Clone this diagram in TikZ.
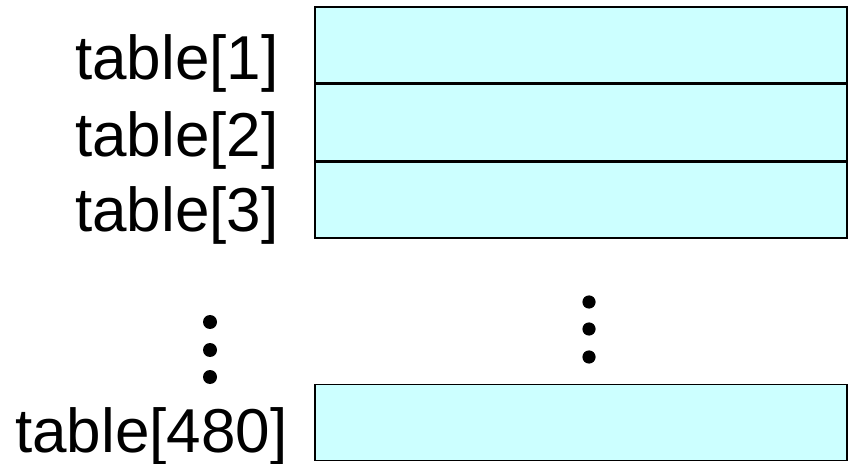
\documentclass[tikz,border=0pt]{standalone}
\usepackage{fontspec}
\setmainfont{Liberation Sans}
\usetikzlibrary{positioning}
\definecolor{cellfill}{HTML}{CCFFFF}

\begin{document}
\begin{tikzpicture}[
    x=0.5pt, y=-0.5pt,
    cell/.style={
        draw,
        rectangle,
        fill=cellfill,
        line width=0.75pt,
        minimum width=266pt,
        minimum height=38pt,
        inner sep=0pt
    },
    lbl/.style={
        font=\fontsize{31}{37}\selectfont,
        inner sep=0pt,
        anchor=base east
    },
    vdot/.style={fill=black}
]
\useasboundingbox (0,0) rectangle (850,464);

% Rows
\node[cell] (T1) at (581,45) {};
\node[cell, below=0pt of T1] (T2) {};
\node[cell, below=0pt of T2] (T3) {};
\node[cell] (T480) at (581,422.5) {};

% Labels
\node[lbl] (L1) at (279,80) {table[1]};
\node[lbl] (L2) at (279,157) {table[2]};
\node[lbl] (L3) at (279,232) {table[3]};
\node[lbl] (L480) at (288,452) {table[480]};

% Dots
\foreach \y in {302,329,357}
    \fill[vdot] (589,\y) circle (3.3pt);
\foreach \y in {322,350,377}
    \fill[vdot] (210,\y) circle (3.5pt);

\end{tikzpicture}
\end{document}
